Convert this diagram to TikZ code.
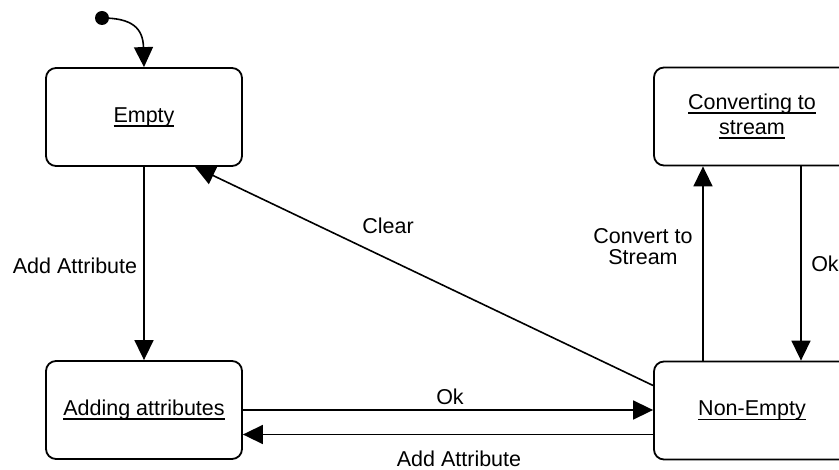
\documentclass[tikz,border=0pt]{standalone}
\usepackage{fontspec}
\setmainfont{Liberation Sans}
\usetikzlibrary{arrows.meta,positioning}

% underlined state name: a rule set a little below the baseline
\newcommand{\stateul}[1]{\leavevmode\setbox0\hbox{#1}\rlap{\rule[-4.5pt]{\wd0}{1.6pt}}\box0}

\tikzset{
  state/.style={draw, line width=1.8pt, rounded corners=10pt,
    minimum width=196pt, minimum height=98pt, align=center,
    font=\fontsize{21.5}{27}\selectfont},
  trans/.style={line width=1.6pt, -{Triangle[length=20pt,width=19pt]}},
  lbl/.style={font=\fontsize{21.5}{21}\selectfont, align=center, inner sep=0pt}
}

\begin{document}
\begin{tikzpicture}[x=1pt, y=-1pt]
  \useasboundingbox (0,0) rectangle (839,470);
  \clip (0,0) rectangle (839,470);

  % states
  \node[state] (empty) at (144,117) {\stateul{Empty}};
  \node[state] (adding) at (144,410) {\stateul{Adding attributes}};
  \node[state] (conv) at (752,116.5) {\stateul{Converting to}\\[-2pt]\stateul{stream}};
  \node[state] (nonempty) at (752,410.5) {\stateul{Non-Empty}};

  % initial pseudo-state
  \node[circle, fill, inner sep=0pt, minimum size=14pt] (init) at (102,18) {};
  \draw[trans] (init.center) .. controls (132,18) and (143,28) .. (empty.north);

  % transitions
  \draw[trans] (empty.south) -- (adding.north);
  \draw[trans] (adding.east) -- (adding.east -| nonempty.west);
  \draw[trans] ([yshift=-24pt]nonempty.west) -- ([yshift=-24pt]nonempty.west -| adding.east);
  \draw[trans] ([yshift=25pt]nonempty.west) -- ([xshift=51pt]empty.south);
  \draw[trans] ([xshift=-49pt]nonempty.north) -- ([xshift=-49pt]conv.south);
  \draw[trans] ([xshift=49pt]conv.south) -- ([xshift=49pt]nonempty.north);

  % transition labels
  \node[lbl] (l-add1) at (75,266) {Add Attribute};
  \node[lbl] (l-clear) at (388,226) {Clear};
  \node[lbl] (l-ok1) at (450,397) {Ok};
  \node[lbl] (l-add2) at (459,459) {Add Attribute};
  \node[lbl] (l-conv) at (643,247) {Convert to\\Stream};
  \node[lbl] (l-ok2) at (825,264) {Ok};
\end{tikzpicture}
\end{document}
